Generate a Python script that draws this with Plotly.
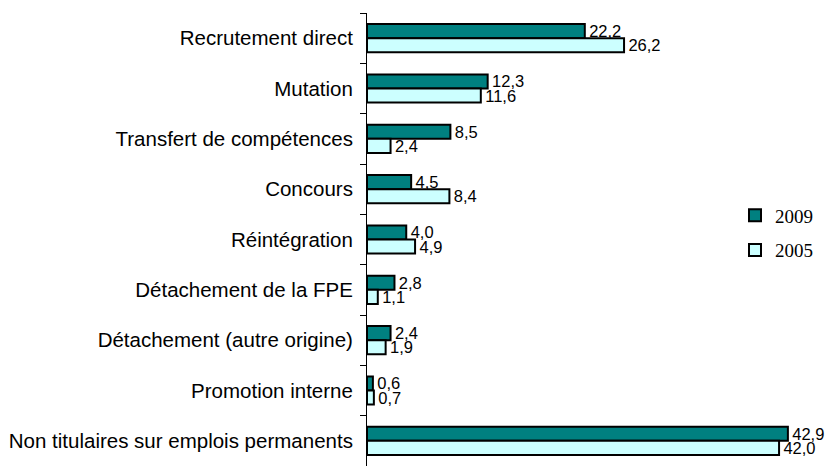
import plotly.graph_objects as go

categories = ["Recrutement direct", "Mutation", "Transfert de compétences", "Concours",
              "Réintégration", "Détachement de la FPE", "Détachement (autre origine)",
              "Promotion interne", "Non titulaires sur emplois permanents"]
v2009 = [22.2, 12.3, 8.5, 4.5, 4.0, 2.8, 2.4, 0.6, 42.9]
v2005 = [26.2, 11.6, 2.4, 8.4, 4.9, 1.1, 1.9, 0.7, 42.0]

def fmt(v):
    return "\u200a" + f"{v:.1f}".replace(".", ",")

fig = go.Figure()
fig.add_trace(go.Bar(name="2009", y=categories, x=v2009, orientation="h",
                     marker=dict(color="#008080", line=dict(color="black", width=2)),
                     text=[fmt(v) for v in v2009], textposition="outside",
                     textfont=dict(family="Arial, Liberation Sans", size=16.5, color="black"),
                     legendgroup="a", cliponaxis=False, constraintext="none"))
fig.add_trace(go.Bar(name="2005", y=categories, x=v2005, orientation="h",
                     marker=dict(color="#CCFFFF", line=dict(color="black", width=2)),
                     text=[fmt(v) for v in v2005], textposition="outside",
                     textfont=dict(family="Arial, Liberation Sans", size=16.5, color="black"),
                     legendgroup="b", cliponaxis=False, constraintext="none"))

fig.update_layout(
    width=826, height=458, barmode="group", bargap=0.44, bargroupgap=0,
    margin=dict(l=359, r=0, t=5, b=0),
    plot_bgcolor="white", paper_bgcolor="white",
    font=dict(family="Arial, Liberation Sans", size=20.5, color="black"),
    legend=dict(x=0.788, y=0.595, xanchor="left", yanchor="top",
                font=dict(family="Times New Roman, Liberation Serif", size=19),
                tracegroupgap=7, bgcolor="rgba(0,0,0,0)"),
    xaxis=dict(range=[0, 47.6], visible=False),
    yaxis=dict(autorange="reversed", showline=True, linecolor="black", linewidth=1,
               ticks="outside", tickson="boundaries", ticklen=6, tickcolor="black",
               ticklabelstandoff=9, showgrid=False),
)
fig.write_html("out.html")
